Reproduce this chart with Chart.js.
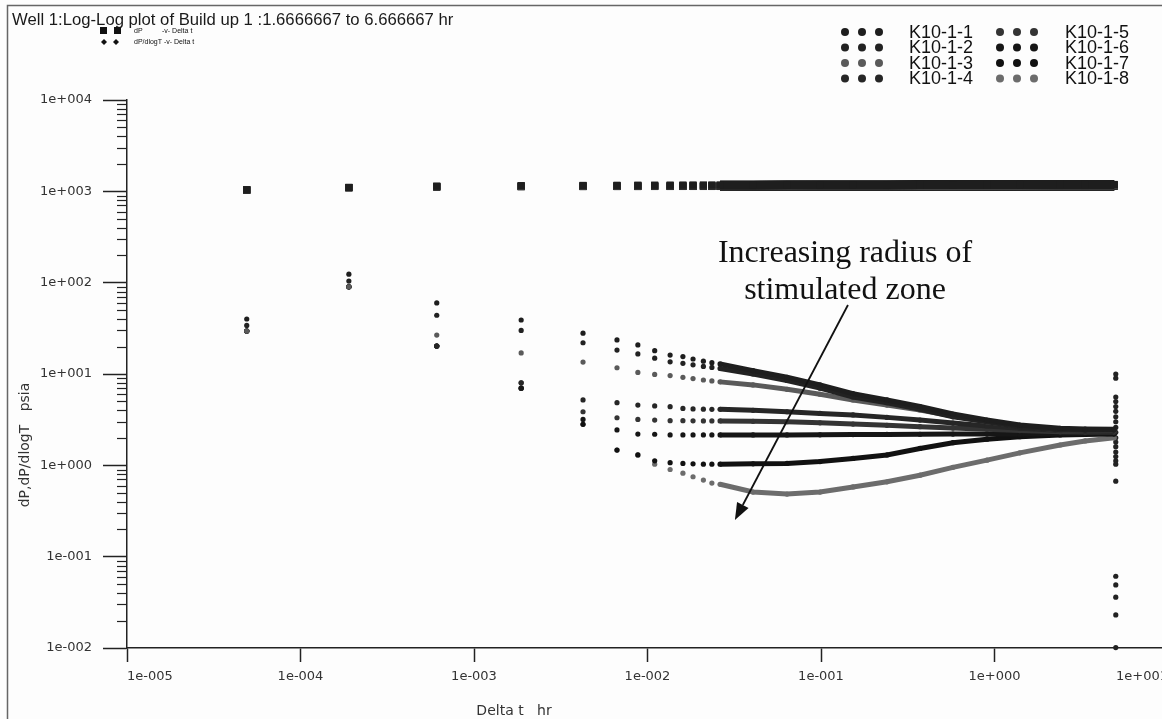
<!DOCTYPE html>
<html>
<head>
<meta charset="utf-8">
<script src="https://cdn.jsdelivr.net/npm/chart.js@4.4.0/dist/chart.umd.min.js"></script>
<style>
  html, body { margin: 0; padding: 0; background: #fdfdfd; overflow: hidden; }
  #wrap { position: absolute; left: 0; top: 0; width: 1180px; height: 719px; }
</style>
</head>
<body>
<div id="wrap"><canvas id="plot" width="1180" height="719"></canvas></div>
<script>
// wells and their colours
const wells = ['K10-1-1', 'K10-1-2', 'K10-1-3', 'K10-1-4', 'K10-1-5', 'K10-1-6', 'K10-1-7', 'K10-1-8'];
const wellColors = ['#1e1e1e', '#222222', '#5a5a5a', '#262626', '#343434', '#161616', '#111111', '#6c6c6c'];

// Delta t, hr
const deltaT = [0.000049, 0.00019, 0.00061, 0.00187, 0.00425, 0.00667, 0.0088, 0.011, 0.0135, 0.016,
  0.0183, 0.021, 0.0235, 0.0262, 0.0406, 0.0637, 0.0987, 0.153, 0.240, 0.372, 0.576, 0.905, 1.40, 2.39, 3.33, 4.9];

// dP/dlogT, psia
const derivK1 = [40, 124, 60, 39, 28, 23.6, 20.8, 18.0, 16.1, 15.5, 14.6, 13.8, 13.3, 12.9, 10.9, 9.2, 7.6, 6.1, 5.2, 4.4, 3.65, 3.13, 2.76, 2.54, 2.5, 2.48];
const derivK2 = [34, 104, 44, 30, 22, 18.3, 16.6, 14.9, 13.6, 13.1, 12.6, 12.1, 11.8, 11.5, 10.0, 8.5, 7.0, 5.6, 4.85, 4.1, 3.4, 3.0, 2.65, 2.44, 2.42, 2.42];
const derivK3 = [29.5, 90, 26.7, 17, 13.5, 11.7, 10.4, 9.9, 9.6, 9.2, 8.9, 8.6, 8.4, 8.2, 7.6, 6.8, 6.0, 5.2, 4.57, 4.04, 3.47, 3.0, 2.7, 2.44, 2.42, 2.4];
const derivK4 = [29.5, 90, 20.2, 8.0, 5.2, 4.85, 4.57, 4.47, 4.39, 4.2, 4.15, 4.12, 4.1, 4.1, 4.0, 3.86, 3.7, 3.56, 3.35, 3.13, 2.9, 2.7, 2.55, 2.4, 2.38, 2.36];
const derivK5 = [29.5, 90, 20.2, 8.0, 3.86, 3.32, 3.18, 3.13, 3.08, 3.08, 3.07, 3.06, 3.06, 3.06, 3.03, 3.0, 2.92, 2.83, 2.74, 2.65, 2.56, 2.48, 2.4, 2.33, 2.32, 2.31];
const derivK6 = [29.5, 90, 20.2, 7.0, 3.18, 2.44, 2.2, 2.19, 2.15, 2.15, 2.15, 2.15, 2.15, 2.15, 2.15, 2.15, 2.16, 2.17, 2.18, 2.19, 2.2, 2.2, 2.21, 2.23, 2.25, 2.26];
const derivK7 = [29.5, 90, 20.2, 7.0, 2.81, 1.47, 1.30, 1.12, 1.07, 1.05, 1.04, 1.03, 1.03, 1.03, 1.04, 1.05, 1.10, 1.19, 1.30, 1.53, 1.77, 1.93, 2.06, 2.15, 2.18, 2.2];
const derivK8 = [29.5, 90, 20.2, 7.0, 2.81, 1.47, 1.30, 1.03, 0.90, 0.82, 0.75, 0.69, 0.64, 0.62, 0.51, 0.485, 0.51, 0.58, 0.66, 0.78, 0.95, 1.14, 1.37, 1.67, 1.85, 2.0];

// dP, psia
const dpK1 = [1040, 1105, 1140, 1155, 1162, 1165, 1167, 1168, 1169, 1170, 1171, 1172, 1172, 1173, 1176, 1178, 1180, 1182, 1184, 1185, 1186, 1187, 1188, 1189, 1190, 1190];
const dpK2 = [1038, 1103, 1135, 1150, 1156, 1159, 1161, 1162, 1163, 1164, 1165, 1165, 1166, 1166, 1169, 1171, 1173, 1175, 1176, 1177, 1178, 1179, 1180, 1181, 1181, 1182];
const dpK3 = [1036, 1100, 1128, 1142, 1148, 1151, 1152, 1153, 1154, 1155, 1155, 1156, 1156, 1157, 1159, 1161, 1163, 1164, 1165, 1166, 1167, 1168, 1169, 1170, 1170, 1171];
const dpK4 = [1035, 1098, 1122, 1134, 1138, 1140, 1141, 1142, 1143, 1143, 1144, 1144, 1145, 1145, 1147, 1148, 1149, 1150, 1151, 1152, 1153, 1154, 1155, 1156, 1157, 1157];
const dpK5 = [1034, 1097, 1120, 1131, 1134, 1136, 1137, 1137, 1138, 1138, 1139, 1139, 1139, 1140, 1141, 1142, 1143, 1144, 1145, 1146, 1147, 1148, 1149, 1150, 1150, 1151];
const dpK6 = [1033, 1096, 1118, 1128, 1131, 1132, 1133, 1133, 1134, 1134, 1134, 1135, 1135, 1135, 1136, 1137, 1138, 1139, 1140, 1141, 1142, 1143, 1144, 1145, 1145, 1146];
const dpK7 = [1032, 1095, 1116, 1125, 1128, 1129, 1129, 1130, 1130, 1130, 1130, 1130, 1130, 1130, 1131, 1131, 1131, 1132, 1132, 1133, 1134, 1135, 1136, 1138, 1139, 1140];
const dpK8 = [1031, 1094, 1115, 1124, 1127, 1128, 1128, 1128, 1128, 1129, 1129, 1129, 1129, 1129, 1129, 1129, 1129, 1130, 1130, 1130, 1131, 1132, 1133, 1134, 1135, 1136];

// last derivative points, all at the end of the build up
const endDeltaT = 5.0;
const endDeriv = [10.0, 9.0, 5.6, 5.0, 4.4, 3.9, 3.4, 3.0, 2.6, 2.3, 2.0, 1.8, 1.6, 1.4, 1.25, 1.12, 1.03, 0.67, 0.061, 0.049, 0.036, 0.023, 0.0101];

const xTickVals = [1e-5, 1e-4, 1e-3, 1e-2, 1e-1, 1e0, 1e1];
const yTickVals = [1e-2, 1e-1, 1e0, 1e1, 1e2, 1e3, 1e4];

const derivSeries = [derivK1, derivK2, derivK3, derivK4, derivK5, derivK6, derivK7, derivK8];
const dpSeries = [dpK1, dpK2, dpK3, dpK4, dpK5, dpK6, dpK7, dpK8];
const denseFrom = 0.026; // points overlap into a solid band from here on

function sciLabel(v) {
  const e = Math.round(Math.log10(v));
  return '1e' + (e < 0 ? '-' : '+') + String(Math.abs(e)).padStart(3, '0');
}

const datasets = [];
wells.forEach((name, i) => {
  const c = wellColors[i];
  const seg = { borderColor: ctx => deltaT[ctx.p0DataIndex] >= denseFrom ? c : 'rgba(0,0,0,0)' };
  datasets.push({
    label: name + ' dP',
    data: deltaT.map((t, j) => ({ x: t, y: dpSeries[i][j] })),
    showLine: true, borderWidth: 9, borderColor: c, backgroundColor: c,
    pointStyle: 'rect', pointRadius: 5, pointBorderWidth: 0, segment: seg, clip: false
  });
  datasets.push({
    label: name + ' dP/dlogT',
    data: deltaT.map((t, j) => ({ x: t, y: derivSeries[i][j] })),
    showLine: true, borderWidth: 5, borderColor: c, backgroundColor: c,
    pointStyle: 'circle', pointRadius: 2.6, pointBorderWidth: 0, segment: seg, clip: false
  });
});
datasets.push({
  label: 'end',
  data: endDeriv.map(v => ({ x: endDeltaT, y: v })),
  showLine: false, backgroundColor: '#222', borderColor: '#222',
  pointRadius: 2.6, pointBorderWidth: 0, clip: false
});

const decor = {
  id: 'decor',
  beforeDraw(chart) {
    const ctx = chart.ctx;
    ctx.save();
    ctx.fillStyle = '#fdfdfd';
    ctx.fillRect(0, 0, chart.width, chart.height);
    ctx.restore();
  },
  afterDraw(chart) {
    const ctx = chart.ctx;
    const xs = chart.scales.x, ys = chart.scales.y;
    const area = chart.chartArea;
    ctx.save();

    // frame
    ctx.strokeStyle = '#666';
    ctx.lineWidth = 1.5;
    ctx.beginPath();
    ctx.moveTo(7.5, 719); ctx.lineTo(7.5, 5.5); ctx.lineTo(1180, 5.5);
    ctx.stroke();

    // minor ticks on y
    ctx.strokeStyle = '#222';
    ctx.lineWidth = 1.2;
    for (let e = -2; e < 4; e++) {
      for (let m = 2; m <= 9; m++) {
        const py = Math.round(ys.getPixelForValue(m * Math.pow(10, e))) + 0.5;
        ctx.beginPath();
        ctx.moveTo(area.left - 10, py); ctx.lineTo(area.left, py);
        ctx.stroke();
      }
    }

    // title
    ctx.fillStyle = '#1a1a1a';
    ctx.font = '16.7px "Liberation Sans", Arial, sans-serif';
    ctx.textBaseline = 'alphabetic';
    ctx.textAlign = 'left';
    ctx.fillText('Well 1:Log-Log plot of Build up 1 :1.6666667 to 6.666667 hr', 12, 25);

    // small marker legend
    ctx.fillStyle = '#111';
    ctx.fillRect(100, 27, 7, 7);
    ctx.fillRect(114, 27, 7, 7);
    [104, 116].forEach(px => {
      ctx.beginPath();
      ctx.moveTo(px, 39); ctx.lineTo(px + 3, 42); ctx.lineTo(px, 45); ctx.lineTo(px - 3, 42);
      ctx.closePath(); ctx.fill();
    });
    ctx.font = '7px "Liberation Sans", Arial, sans-serif';
    ctx.textBaseline = 'middle';
    ctx.fillText('dP', 134, 31);
    ctx.fillText('-v- Delta t', 162, 31);
    ctx.fillText('dP/dlogT -v- Delta t', 134, 42.5);

    // well legend, two columns
    ctx.font = '18px "Liberation Sans", Arial, sans-serif';
    wells.forEach((name, i) => {
      const col = i < 4 ? 0 : 1;
      const row = i % 4;
      const y = 32 + row * 15.5;
      const x0 = col ? 1000 : 845;
      ctx.fillStyle = wellColors[i];
      for (let k = 0; k < 3; k++) {
        ctx.beginPath();
        ctx.arc(x0 + k * 17, y, 4, 0, Math.PI * 2);
        ctx.fill();
      }
      ctx.fillStyle = '#111';
      ctx.fillText(name, col ? 1065 : 909, y + 1);
    });

    // axis titles
    ctx.fillStyle = '#333';
    ctx.font = '14px "DejaVu Sans", sans-serif';
    ctx.textAlign = 'center';
    ctx.fillText('Delta t   hr', 514, 711);
    ctx.save();
    ctx.translate(25, 445);
    ctx.rotate(-Math.PI / 2);
    ctx.fillText('dP,dP/dlogT   psia', 0, 0);
    ctx.restore();

    // annotation
    ctx.fillStyle = '#111';
    ctx.font = '32px "Liberation Serif", "Times New Roman", serif';
    ctx.textBaseline = 'alphabetic';
    const tx = xs.getPixelForValue(0.1375);
    ctx.fillText('Increasing radius of', tx, ys.getPixelForValue(168));
    ctx.fillText('stimulated zone', tx, ys.getPixelForValue(66));

    const x1 = xs.getPixelForValue(0.143), y1 = ys.getPixelForValue(57);
    const x2 = xs.getPixelForValue(0.0319), y2 = ys.getPixelForValue(0.252);
    const ang = Math.atan2(y2 - y1, x2 - x1);
    const hl = 17, hw = 6.5;
    const bx = x2 - hl * Math.cos(ang), by = y2 - hl * Math.sin(ang);
    ctx.strokeStyle = '#111';
    ctx.lineWidth = 1.8;
    ctx.beginPath();
    ctx.moveTo(x1, y1); ctx.lineTo(bx, by);
    ctx.stroke();
    ctx.beginPath();
    ctx.moveTo(x2, y2);
    ctx.lineTo(bx + hw * Math.sin(ang), by - hw * Math.cos(ang));
    ctx.lineTo(bx - hw * Math.sin(ang), by + hw * Math.cos(ang));
    ctx.closePath();
    ctx.fill();

    ctx.restore();
  }
};

const tickFont = { family: '"DejaVu Sans", sans-serif', size: 13 };

new Chart(document.getElementById('plot'), {
  type: 'scatter',
  data: { datasets: datasets },
  options: {
    responsive: false,
    devicePixelRatio: 1,
    animation: false,
    events: [],
    layout: { padding: { top: 100, right: 12, left: 0, bottom: 0 } },
    plugins: { legend: { display: false }, tooltip: { enabled: false } },
    scales: {
      x: {
        type: 'logarithmic', min: 1e-5, max: 1e1,
        afterBuildTicks: s => { s.ticks = xTickVals.map(v => ({ value: v })); },
        afterFit: s => { s.height = 71; },
        ticks: { callback: v => sciLabel(v), font: tickFont, color: '#333', align: 'inner',
                 padding: 7, maxRotation: 0, autoSkip: false },
        grid: { drawOnChartArea: false, tickLength: 14, tickColor: '#222', tickWidth: 1.5 },
        border: { display: true, color: '#222', width: 1.5 }
      },
      y: {
        type: 'logarithmic', min: 1e-2, max: 1e4,
        afterBuildTicks: s => { s.ticks = yTickVals.map(v => ({ value: v })); },
        afterFit: s => { s.width = 127; },
        ticks: { callback: v => sciLabel(v), font: tickFont, color: '#333', padding: 11, autoSkip: false },
        grid: { drawOnChartArea: false, tickLength: 24, tickColor: '#222', tickWidth: 1.5 },
        border: { display: true, color: '#222', width: 1.5 }
      }
    }
  },
  plugins: [decor]
});
</script>
</body>
</html>
